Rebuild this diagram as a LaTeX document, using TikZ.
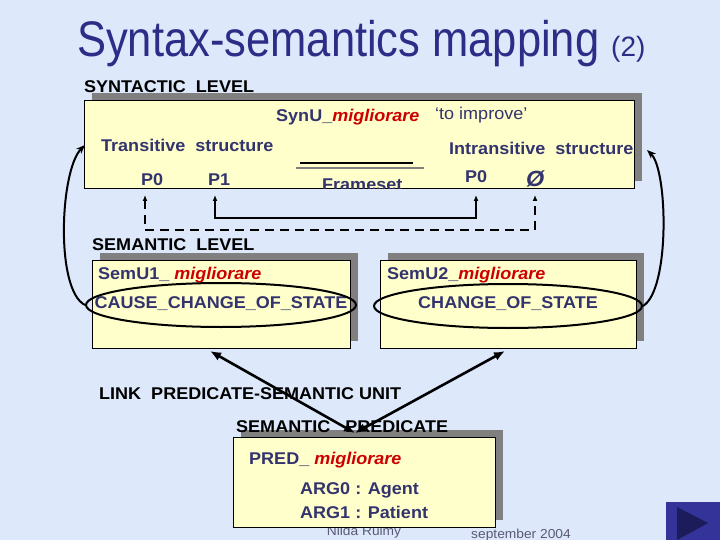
\documentclass[tikz,border=0pt]{standalone}
\usepackage{fontspec}
\setmainfont{Liberation Sans}[FakeStretch=1.06]
\newfontfamily\titlefont{Liberation Sans}[FakeStretch=0.87]
\newfontfamily\plainsans{Liberation Sans}
\usetikzlibrary{arrows.meta,shadows,shapes.geometric}
\definecolor{bg}{RGB}{221,232,250}
\definecolor{ybox}{RGB}{255,255,204}
\definecolor{navy}{RGB}{51,51,110}
\definecolor{titleblue}{RGB}{45,45,135}
\definecolor{redit}{RGB}{204,0,0}
\definecolor{shadowgray}{RGB}{128,128,128}
\definecolor{navbtn}{RGB}{51,51,153}
\definecolor{navtri}{RGB}{28,28,90}
\definecolor{footgray}{RGB}{90,90,120}
\newcommand{\mig}{\textcolor{redit}{\itshape migliorare}}
\begin{document}
\begin{tikzpicture}[x=1pt,y=-1pt,
  panel/.style={draw=black, line width=0.8pt, fill=ybox, inner sep=0pt, anchor=north west,
    general shadow={fill=shadowgray, shadow xshift=8pt, shadow yshift=7pt}},
  lbl/.style={inner sep=0pt, anchor=base west, text=navy, font=\fontsize{17}{20}\selectfont\bfseries},
  hdr/.style={lbl, text=black},
  ctr/.style={lbl, anchor=base},
  foot/.style={inner sep=0pt, anchor=base, text=footgray, font=\fontsize{13}{15}\selectfont},
  ring/.style={draw=black, line width=2pt, ellipse, inner sep=0pt},
  link/.style={draw=black, line width=2pt},
  bigarrow/.style={draw=black, line width=2.6pt, {Latex[length=11pt,width=9pt]}-{Latex[length=11pt,width=9pt]}},
  curve/.style={draw=black, line width=2pt, -{Stealth[length=9pt,width=7pt]}},
  smallarrows/.style={{Latex[length=6pt,width=5pt]}-{Latex[length=6pt,width=5pt]}}
]
\fill[bg] (0,0) rectangle (720,540);
\useasboundingbox (0,0) rectangle (720,540);

% title
\node[inner sep=0pt, anchor=base west, text=titleblue, font=\titlefont\fontsize{50}{56}\selectfont] (title) at (77,57) {Syntax-semantics mapping};
\node[inner sep=0pt, anchor=base west, text=titleblue, font=\plainsans\fontsize{28}{32}\selectfont] (title2) at (611,57) {(2)};

% syntactic level
\node[hdr] (synlvl) at (84,93) {SYNTACTIC\ \ LEVEL};
\node[panel, minimum width=550pt, minimum height=88pt] (syn) at (84,100) {};
\node[lbl] (synu) at (276,122) {SynU\_\mig};
\node[lbl, font=\fontsize{17}{19}\selectfont] (toimp) at (435,120) {‘to improve’};
\node[lbl] (trans) at (101,152) {Transitive\ \ structure};
\node[lbl] (intrans) at (449,155) {Intransitive\ \ structure};
\node[lbl] (p0a) at (141,186) {P0};
\node[lbl] (p1) at (208,186) {P1};
\begin{scope}
  \clip (syn.north west) rectangle (syn.south east);
  \node[lbl] (frameset) at (322,191) {Frameset};
\end{scope}
\node[lbl] (p0b) at (465,183) {P0};
\node[lbl, font=\fontsize{22}{24}\selectfont\bfseries\itshape] (empty) at (526,187) {Ø};
\draw[black, line width=1.4pt] (300,163) -- (413,163);
\draw[shadowgray, line width=1.2pt] (296,168) -- (424,168);

% semantic level
\node[hdr] (semlvl) at (92,250) {SEMANTIC\ \ LEVEL};
\node[panel, minimum width=258pt, minimum height=88pt] (sem1) at (92,260) {};
\node[panel, minimum width=256pt, minimum height=88pt] (sem2) at (380,260) {};
\node[lbl] (semu1) at (98,279) {SemU1\_ \mig};
\node[ctr] (ccs) at (221,308) {CAUSE\_CHANGE\_OF\_STATE};
\node[lbl] (semu2) at (387,279) {SemU2\_\mig};
\node[ctr] (cs) at (508,308) {CHANGE\_OF\_STATE};
\node[ring, minimum width=270pt, minimum height=44pt] (e1) at (221,305) {};
\node[ring, minimum width=268pt, minimum height=44pt] (e2) at (508,306) {};

% connectors between levels
\coordinate (tP0a) at (145,195);
\coordinate (tP1) at (215,195);
\coordinate (tP0b) at (476,195);
\coordinate (tEmp) at (535,195);
\draw[link, smallarrows] (tP1) -- (215,218) -- (476,218) -- (tP0b);
\draw[link, smallarrows, dash pattern=on 9pt off 6pt] (tP0a) -- (145,230) -- (535,230) -- (tEmp);
\coordinate (synL) at (85,145);
\coordinate (synR) at (647,150);
\draw[curve] (e1.west) .. controls (55,290) and (60,170) .. (synL);
\draw[curve] (e2.east) .. controls (670,290) and (668,170) .. (synR);

% predicate
\node[foot] (author) at (364,535) {Nilda Ruimy};
\node[foot] (date) at (521,538) {september 2004};
\node[hdr] (linklbl) at (99,399) {LINK\ \ PREDICATE-SEMANTIC UNIT};
\node[panel, minimum width=262pt, minimum height=90pt] (pred) at (233,437) {};
\node[hdr] (predlbl) at (236,432) {SEMANTIC\ \ \ PREDICATE};
\node[lbl] (predname) at (249,464) {PRED\_ \mig};
\node[lbl] (arg0) at (300,494) {ARG0 : Agent};
\node[lbl] (arg1) at (300,518) {ARG1 : Patient};

\coordinate (s1b) at (210,351);
\coordinate (s2b) at (505,351);
\coordinate (pm) at (355,433);
\draw[bigarrow] (s1b) -- (pm);
\draw[bigarrow] (s2b) -- (pm);

% nav button
\fill[navbtn] (666,502) rectangle (720,540);
\fill[navtri] (677,507) -- (708,523) -- (677,540) -- cycle;
\end{tikzpicture}
\end{document}
